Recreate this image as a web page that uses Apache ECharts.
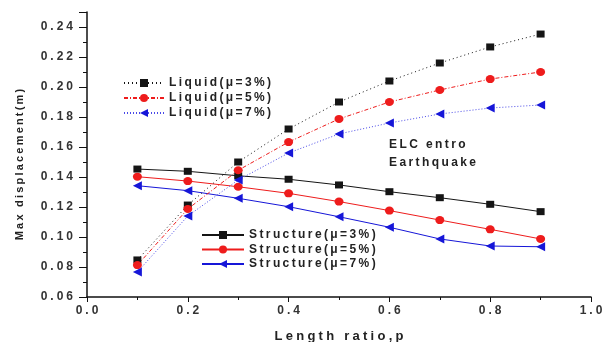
<!DOCTYPE html>
<html>
<head>
<meta charset="utf-8">
<style>
  html, body { margin: 0; padding: 0; background: #fff; }
  #chart { width: 603px; height: 342px; }
</style>
<script src="https://cdn.jsdelivr.net/npm/echarts@6/dist/echarts.min.js"></script>
</head>
<body>
<div id="chart"></div>
<script>
// Length ratio p on the horizontal axis
const lengthRatio = [0.1, 0.2, 0.3, 0.4, 0.5, 0.6, 0.7, 0.8, 0.9];

// Maximum displacement (m) of the liquid
const liquid3 = [0.0847, 0.1213, 0.1500, 0.1720, 0.1900, 0.2040, 0.2160, 0.2267, 0.2353];
const liquid5 = [0.0813, 0.1187, 0.1445, 0.1633, 0.1787, 0.1900, 0.1980, 0.2053, 0.2100];
const liquid7 = [0.0767, 0.1140, 0.1380, 0.1560, 0.1687, 0.1760, 0.1820, 0.1860, 0.1880];

// Maximum displacement (m) of the structure
const structure3 = [0.1453, 0.1438, 0.1408, 0.1385, 0.1347, 0.1302, 0.1262, 0.1218, 0.1169];
const structure5 = [0.1402, 0.1373, 0.1335, 0.1291, 0.1236, 0.1176, 0.1113, 0.1051, 0.0987];
const structure7 = [0.1342, 0.1309, 0.1258, 0.1202, 0.1135, 0.1065, 0.0987, 0.0940, 0.0935];

const liquidNames = ['Liquid(μ=3%)', 'Liquid(μ=5%)', 'Liquid(μ=7%)'];
const structureNames = ['Structure(μ=3%)', 'Structure(μ=5%)', 'Structure(μ=7%)'];

const BLACK = '#151515';
const RED = '#ee1c1c';
const BLUE = '#1616d8';
const FONT = 'Liberation Sans, Arial, sans-serif';

// letter-spaced text: thin spaces (or wider ones) between characters
const spaced = (s, gap) => Array.from(s).join(gap || '\u2009');
const WIDE = '\u2005';

const pairs = ys => lengthRatio.map((x, i) => [x, ys[i]]);

function makeSeries(name, ys, color, symbol, lineType, extra) {
  return Object.assign({
    name: name,
    type: 'line',
    data: pairs(ys),
    symbol: symbol,
    symbolSize: symbol === 'rect' ? [8, 7] : (symbol === 'circle' ? [9, 8] : 9),
    symbolRotate: symbol === 'triangle' ? 90 : 0,
    showSymbol: true,
    lineStyle: { color: color, width: 1, type: lineType },
    itemStyle: { color: color, borderWidth: 0 },
    emphasis: { disabled: true },
    animation: false,
    z: 3
  }, extra || {});
}

const chart = echarts.init(document.getElementById('chart'), null, { renderer: 'canvas' });

const legendText = { fontFamily: FONT, fontSize: 12, fontWeight: 'bold', color: '#222', lineHeight: 14 };

chart.setOption({
  backgroundColor: '#fff',
  animation: false,
  grid: { left: 87, right: 12, top: 12, bottom: 45, containLabel: false, outerBoundsMode: 'none' },
  xAxis: {
    type: 'value',
    min: 0, max: 1, interval: 0.2,
    name: spaced('Length ratio,p', WIDE),
    nameLocation: 'middle',
    nameGap: 33,
    nameTextStyle: { fontFamily: FONT, fontSize: 13, fontWeight: 'bold', color: '#222' },
    axisLine: { show: true, onZero: false, lineStyle: { color: '#111', width: 1.5 } },
    axisTick: { show: true, inside: false, length: 5, lineStyle: { color: '#111', width: 1 } },
    minorTick: { show: true, splitNumber: 2, length: 3, lineStyle: { color: '#111', width: 1 } },
    splitLine: { show: false },
    minorSplitLine: { show: false },
    axisLabel: {
      margin: 8,
      fontFamily: FONT, fontSize: 12, fontWeight: 'bold', color: '#333',
      formatter: v => spaced(v.toFixed(1), WIDE)
    }
  },
  yAxis: {
    type: 'value',
    min: 0.06, max: 0.25, interval: 0.02,
    name: spaced('Max displacement(m)'),
    nameLocation: 'middle',
    nameGap: 62,
    nameRotate: 90,
    nameTextStyle: { fontFamily: FONT, fontSize: 11, fontWeight: 'bold', color: '#222', padding: [0, 20, 0, 0] },
    axisLine: { show: true, onZero: false, lineStyle: { color: '#111', width: 1.5 } },
    axisTick: { show: true, inside: false, length: 8, lineStyle: { color: '#111', width: 1 } },
    minorTick: { show: true, splitNumber: 2, length: 4, lineStyle: { color: '#111', width: 1 } },
    splitLine: { show: false },
    minorSplitLine: { show: false },
    axisLabel: {
      margin: 14,
      showMaxLabel: false,
      fontFamily: FONT, fontSize: 12, fontWeight: 'bold', color: '#333',
      formatter: v => (v > 0.245 ? '' : spaced(v.toFixed(2), WIDE))
    }
  },
  legend: [
    {
      data: liquidNames,
      orient: 'vertical',
      left: 118, top: 71,
      itemWidth: 40, itemHeight: 10, itemGap: 1,
      textStyle: legendText,
      formatter: n => spaced(n),
      selectedMode: false,
      backgroundColor: 'transparent'
    },
    {
      data: structureNames,
      orient: 'vertical',
      left: 196, top: 223,
      itemWidth: 42, itemHeight: 10, itemGap: 0.5,
      textStyle: legendText,
      formatter: n => spaced(n),
      selectedMode: false,
      backgroundColor: 'transparent'
    }
  ],
  graphic: [
    {
      type: 'text',
      left: 389, top: 136,
      style: {
        text: spaced('ELC entro') + '\n' + spaced('Earthquake'),
        font: 'bold 12px ' + FONT,
        fill: '#222',
        lineHeight: 18
      }
    }
  ],
  series: [
    makeSeries(structureNames[0], structure3, BLACK, 'rect', 'solid'),
    makeSeries(structureNames[1], structure5, RED, 'circle', 'solid'),
    makeSeries(structureNames[2], structure7, BLUE, 'triangle', 'solid'),
    makeSeries(liquidNames[0], liquid3, BLACK, 'rect', [1, 3]),
    makeSeries(liquidNames[1], liquid5, RED, 'circle', [4, 2, 1, 2]),
    makeSeries(liquidNames[2], liquid7, '#4a4ae8', 'triangle', [1, 2], { itemStyle: { color: BLUE } })
  ]
});
</script>
</body>
</html>
